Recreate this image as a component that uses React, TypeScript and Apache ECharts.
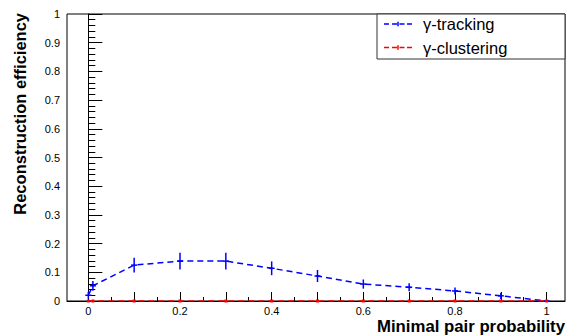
import React, { useEffect, useRef } from "react";
import * as echarts from "echarts";

const xValues = [0, 0.01, 0.1, 0.2, 0.3, 0.4, 0.5, 0.6, 0.7, 0.8, 0.9, 1.0];
const trackingY = [0.02, 0.053, 0.125, 0.139, 0.139, 0.114, 0.087, 0.059, 0.048, 0.035, 0.018, 0.0];
const trackingErr = [0.012, 0.017, 0.026, 0.029, 0.029, 0.024, 0.021, 0.016, 0.014, 0.012, 0.011, 0.003];
const clusteringY = [0, 0, 0, 0, 0, 0, 0, 0, 0, 0, 0, 0];
const xMajorTicks = [0, 0.1, 0.2, 0.3, 0.4, 0.5, 0.6, 0.7, 0.8, 0.9, 1.0];
const xMinorTicks = [0.05, 0.15, 0.25, 0.35, 0.45, 0.55, 0.65, 0.75, 0.85, 0.95];
const xLabels = [0, 0.2, 0.4, 0.6, 0.8, 1.0];
const seriesNames = ["γ-tracking", "γ-clustering"];

const FONT = "'Liberation Sans', Arial, Helvetica, sans-serif";
const LEGEND_ICON =
  "path://M0,1.5h5v1.5h-5z M8,1.5h5v1.5h-5z M15.5,1.5h5v1.5h-5z M23,1.5h5v1.5h-5z M13.25,0h1.5v4.5h-1.5z";

export default function App() {
  const ref = useRef<HTMLDivElement>(null);
  useEffect(() => {
    if (!ref.current) return;
    const chart = echarts.init(ref.current, null, { renderer: "svg" });
    const tracking = xValues.map((x, i) => [x, trackingY[i]]);
    const trackingErrData = xValues.map((x, i) => [x, trackingY[i] - trackingErr[i], trackingY[i] + trackingErr[i], trackingY[i]]);
    const clustering = xValues.map((x, i) => [x, clusteringY[i]]);
    const xMin = -0.0465;
    const xMax = 1.04;
    chart.setOption({
      animation: false,
      grid: {
        left: 67,
        right: 1,
        top: 14,
        bottom: 35,
        show: true,
        borderColor: "#000",
        borderWidth: 1,
        backgroundColor: "transparent",
      },
      xAxis: [
        {
          type: "value",
          min: xMin,
          max: xMax,
          position: "bottom",
          axisLine: { show: true, lineStyle: { color: "#000", width: 1 } },
          axisTick: { show: true, inside: true, length: 9, customValues: xMajorTicks, lineStyle: { color: "#000" } },
          axisLabel: {
            show: true,
            customValues: xLabels,
            fontSize: 11,
            color: "#000",
            margin: 4,
            fontFamily: FONT,
            formatter: (v: number) => String(Math.round(v * 10) / 10),
          },
          splitLine: { show: false },
        },
        {
          type: "value",
          min: xMin,
          max: xMax,
          position: "bottom",
          axisLine: { show: false },
          axisTick: { show: true, inside: true, length: 4, customValues: xMinorTicks, lineStyle: { color: "#000" } },
          axisLabel: { show: false },
          splitLine: { show: false },
        },
      ],
      yAxis: {
        type: "value",
        min: 0,
        max: 1,
        interval: 0.1,
        axisLine: { show: true, lineStyle: { color: "#000", width: 1 } },
        axisTick: { show: true, inside: true, length: 14, lineStyle: { color: "#000" } },
        minorTick: { show: true, splitNumber: 5, length: 7, lineStyle: { color: "#000" } },
        axisLabel: {
          fontSize: 11,
          color: "#000",
          margin: 7,
          fontFamily: FONT,
          formatter: (v: number) => String(Math.round(v * 10) / 10),
        },
        splitLine: { show: false },
      },
      legend: {
        data: [
          { name: seriesNames[0], icon: LEGEND_ICON, itemStyle: { color: "#0000ff" } },
          { name: seriesNames[1], icon: LEGEND_ICON, itemStyle: { color: "#ff0000" } },
        ],
        orient: "vertical",
        left: 384,
        top: 15.5,
        padding: 0,
        itemWidth: 28,
        itemHeight: 4.5,
        itemGap: 6.5,
        z: 10,
        lineStyle: { width: 0, opacity: 0 },
        textStyle: { fontSize: 16.5, fontFamily: FONT, color: "#000", lineHeight: 17, padding: [0, 0, 0, 6] },
      },
      graphic: [
        {
          type: "rect",
          z: 5,
          shape: { x: 377, y: 14, width: 188, height: 45 },
          style: { fill: "#fff", stroke: "#333", lineWidth: 1 },
        },
        {
          type: "text",
          x: 20,
          y: 13,
          rotation: Math.PI / 2,
          style: {
            text: "Reconstruction efficiency",
            font: `bold 16.5px ${FONT}`,
            fill: "#000",
            align: "right",
            verticalAlign: "middle",
          },
        },
        {
          type: "text",
          x: 565,
          y: 326,
          style: {
            text: "Minimal pair probability",
            font: `bold 16.75px ${FONT}`,
            fill: "#000",
            align: "right",
            verticalAlign: "middle",
          },
        },
      ],
      series: [
        {
          name: seriesNames[0],
          type: "line",
          data: tracking,
          symbol: "none",
          color: "#0000ff",
          lineStyle: { color: "#0000ff", width: 1.5, type: [6, 4] },
          z: 3,
        },
        {
          name: seriesNames[0] + " errors",
          type: "custom",
          data: trackingErrData,
          z: 3,
          renderItem: (params: any, api: any) => {
            const x = api.value(0);
            const lo = api.coord([x, api.value(1)]);
            const hi = api.coord([x, api.value(2)]);
            const c = api.coord([x, api.value(3)]);
            return {
              type: "group",
              children: [
                {
                  type: "line",
                  shape: { x1: lo[0], y1: lo[1], x2: hi[0], y2: hi[1] },
                  style: { stroke: "#0000ff", lineWidth: 1.5 },
                },
                {
                  type: "line",
                  shape: { x1: c[0] - 3, y1: c[1], x2: c[0] + 3, y2: c[1] },
                  style: { stroke: "#0000ff", lineWidth: 1.5 },
                },
              ],
            };
          },
        },
        {
          name: seriesNames[1],
          type: "line",
          data: clustering,
          symbol: "rect",
          symbolSize: 3,
          color: "#ff0000",
          itemStyle: { color: "#ff0000" },
          lineStyle: { color: "#ff0000", width: 1.5, type: [6, 4] },
          z: 4,
        },
      ],
    });
    return () => chart.dispose();
  }, []);
  return (
    <div
      ref={ref}
      style={{ position: "fixed", left: 0, top: 0, width: 566, height: 336, background: "#fff" }}
    />
  );
}
